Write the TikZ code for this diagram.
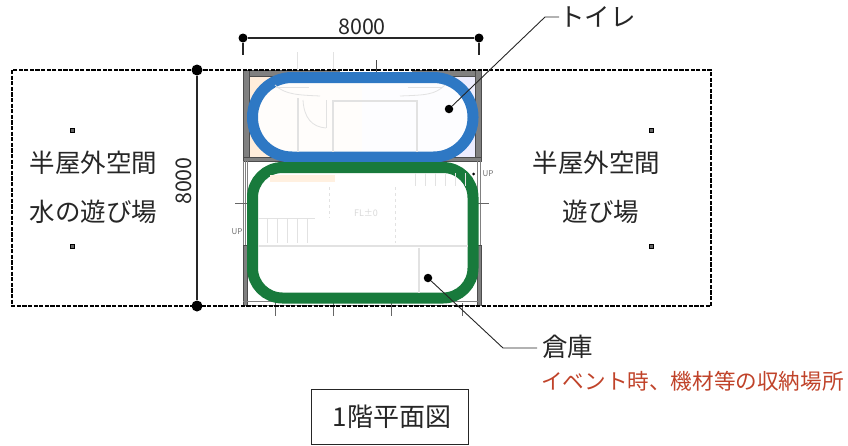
\documentclass[tikz,border=0pt]{standalone}
\usepackage{fontspec}
\setmainfont{Noto Sans CJK JP}
\definecolor{planblue}{HTML}{2E78C4}
\definecolor{plangreen}{HTML}{187A3C}
\definecolor{notered}{HTML}{C0432A}
\definecolor{wallgrey}{HTML}{808080}
\definecolor{faintgrey}{HTML}{E2E2E2}
\tikzset{
    blackdot/.style={circle,fill=black,inner sep=0pt,minimum size=11pt},
    leaderdot/.style={circle,fill=black,inner sep=0pt,minimum size=8.5pt},
    smallpost/.style={rectangle,draw=black,fill=black!60,line width=1pt,inner sep=0pt,minimum size=4pt},
    boundary/.style={line width=2.4pt,dash pattern=on 4.2pt off 1.4pt},
    planlabel/.style={font=\fontsize{25.5}{25.5}\selectfont,text=black!85,inner sep=0pt},
    wall/.style={draw=black!70,fill=wallgrey,line width=0.5pt},
    faintwall/.style={draw=faintgrey,line width=2.5pt},
    faintline/.style={draw=faintgrey,line width=0.8pt},
    roomloop/.style={line width=11pt,fill=white,fill opacity=0.9}
}
\begin{document}
\begin{tikzpicture}[x=1pt,y=-1pt]
    \useasboundingbox (0,0) rectangle (848,445);

    % Floor plan %
    \fill[orange!14] (250,77) rectangle (362,157);
    \fill[blue!7] (362,77) rectangle (475,157);
    \draw[faintline] (297,52) -- (297,82);
    \draw[faintline] (333,52) -- (333,82);
    \draw[wall] (243,70) rectangle (481,76);
    \fill[white] (340,69) rectangle (412,73);
    \draw[black!70,line width=0.7pt] (376,60) -- (376,72);
    \draw[wall] (243,70) rectangle (249,160);
    \draw[wall] (475,70) rectangle (481,160);
    \draw[wall] (243,157) rectangle (481,161);
    \draw[black!50,line width=0.6pt] (243,161) -- (243,303) (245,161) -- (245,303) (247,161) -- (247,303);
    \draw[black!50,line width=0.6pt] (477,161) -- (477,303) (480,161) -- (480,303);
    \draw[wall] (243,245) rectangle (247,305);
    \draw[wall] (477,245) rectangle (481,305);
    \draw[black!50,line width=0.6pt] (243,301) -- (481,301) (243,305) -- (481,305);
    \draw[black!70,line width=1pt] (417,305) -- (450,305);
    \foreach \tickx in {275,333,391,462}
        \draw[black!60,line width=0.8pt] (\tickx,303) -- (\tickx,316);
    \draw[black!60,line width=0.8pt] (235,203) -- (248,203);
    \draw[black!60,line width=0.8pt] (473,203) -- (489,203);
    \node[font=\fontsize{8}{8}\selectfont,text=black!55,inner sep=0pt] (upright) at (488,174) {UP};
    \node[font=\fontsize{8}{8}\selectfont,text=black!55,inner sep=0pt] (upleft) at (237,232) {UP};
    \fill[black] (473.5,174) circle (1.5pt);

    % Outer boundary %
    \draw[boundary] (12,70) rectangle (711,306);
    \foreach \postx/\posty/\postname in {72/130/a,72/246/b,651/130/c,651/246/d}
        \node[smallpost] (post\postname) at (\postx,\posty) {};

    % Room loops %
    \draw[planblue,roomloop,rounded corners=39.5pt] (252.5,77.5) rectangle (473,157);
    \draw[plangreen,roomloop,rounded corners=30pt] (252.5,167.5) rectangle (473,298);

    % Inside of the plan, over the loops %
    \draw[faintwall] (298,98) -- (298,152);
    \draw[faintwall] (333,100) -- (333,152) (417,100) -- (417,152);
    \draw[faintwall] (333,101) -- (417,101);
    \draw[faintline] (303,100) .. controls (304,118) and (312,127) .. (326,128);
    \draw[faintline] (326,100) -- (326,128);
    \draw[faintline] (275,87) -- (309,87) (408,87) -- (442,87);
    \draw[faintline] (275,85) .. controls (285,95) and (300,95) .. (320,96);
    \draw[faintline] (400,96) .. controls (425,95) and (435,95) .. (445,85);
    \draw[faintwall] (258,246) -- (468,246);
    \draw[faintwall] (419,248) -- (419,293);
    \draw[faintline] (258,218) -- (315,218);
    \foreach \stepx in {267,277,287,297,307}
        \draw[faintline] (\stepx,219) -- (\stepx,243);
    \foreach \stepx in {415,425,435,445,455,465}
        \draw[faintline] (\stepx,173) -- (\stepx,186);
    \draw[orange!12,line width=7pt] (270,178) -- (335,178);
    \draw[faintline,dashed] (329,187) -- (329,218);
    \draw[faintline,dashed] (395,187) -- (395,243);
    \node[font=\fontsize{9}{9}\selectfont,text=black!15,inner sep=0pt] (floorlevel) at (366,213) {FL±0};

    % Dimensions %
    \node[blackdot,minimum size=9pt] (topleft) at (243,38) {};
    \node[blackdot,minimum size=9pt] (topright) at (479,38) {};
    \draw[black!85,line width=1.2pt] (topleft) -- (topright);
    \draw[black!85,line width=1.2pt] (topleft) -- (243,55);
    \draw[black!85,line width=1.2pt] (topright) -- (479,55);
    \node[font=\fontsize{21.5}{21.5}\selectfont,text=black!85,inner sep=0pt] (widthlabel) at (362,27) {8000};
    \node[blackdot] (sideup) at (197,70) {};
    \node[blackdot] (sidedown) at (197,306) {};
    \draw[black!85,line width=1.2pt] (sideup) -- (sidedown);
    \node[font=\fontsize{21.5}{21.5}\selectfont,text=black!85,inner sep=0pt,rotate=90] (heightlabel) at (184,181) {8000};

    % Labels %
    \node[planlabel] (leftone) at (93.5,163) {半屋外空間};
    \node[planlabel] (lefttwo) at (93.5,212) {水の遊び場};
    \node[planlabel] (rightone) at (596.5,163) {半屋外空間};
    \node[planlabel] (righttwo) at (601,212) {遊び場};

    % Leaders %
    \node[leaderdot] (toiletdot) at (449,109) {};
    \node[leaderdot] (storedot) at (428,278) {};
    \node[planlabel,anchor=west] (toilet) at (559,17) {トイレ};
    \node[planlabel,anchor=west] (store) at (542,347) {倉庫};
    \node[anchor=west,font=\fontsize{21.6}{21.6}\selectfont,text=notered,inner sep=0pt] (storenote) at (541,381) {イベント時、機材等の収納場所};
    \draw[black!85,line width=0.9pt] (toiletdot) -- (545,17) -- (toilet.west);
    \draw[black!85,line width=0.9pt] (storedot) -- (503,348) -- (537,348);

    % Title %
    \node[draw=black!85,line width=1pt,minimum width=157pt,minimum height=55pt,font=\fontsize{26}{26}\selectfont,text=black!85,inner sep=0pt] (title) at (389.5,416.5) {\hspace*{5pt}1階平面図};
\end{tikzpicture}
\end{document}
